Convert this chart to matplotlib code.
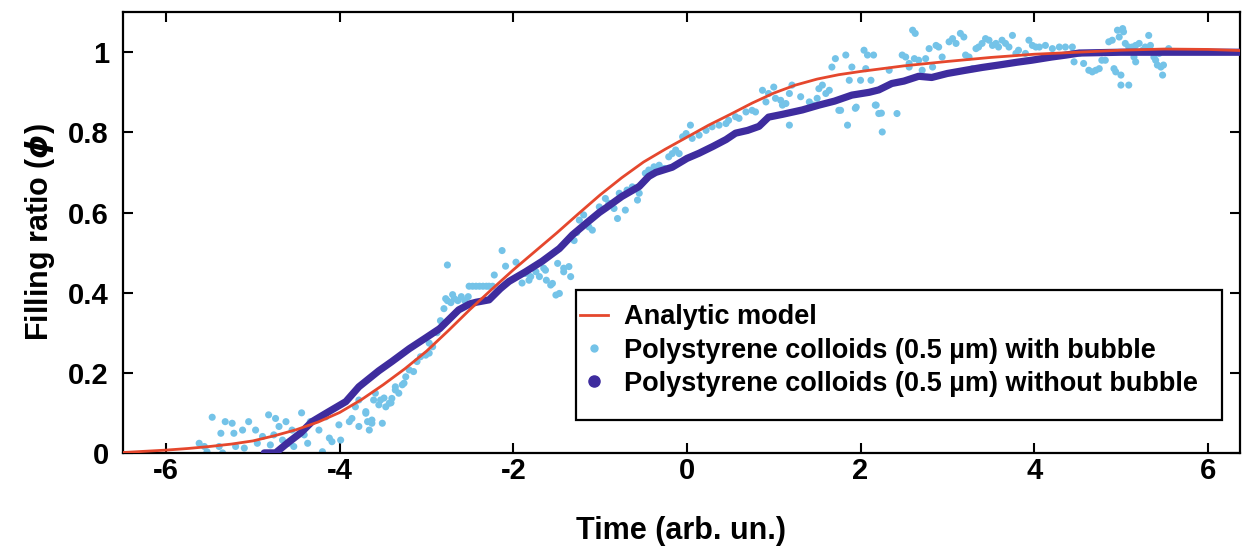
import numpy as np
import matplotlib
matplotlib.use("Agg")
import matplotlib.pyplot as plt
from matplotlib.lines import Line2D
from matplotlib.patches import Rectangle

plt.rcParams['font.family'] = ['Liberation Sans', 'DejaVu Sans']
plt.rcParams['font.weight'] = 'bold'
plt.rcParams['axes.unicode_minus'] = False
plt.rcParams['mathtext.fontset'] = 'custom'
plt.rcParams['mathtext.it'] = 'DejaVu Sans:italic:bold'
plt.rcParams['mathtext.rm'] = 'Liberation Sans:bold'

# analytic model
model_x = [-6.5, -6.25, -6.0, -5.75, -5.5, -5.25, -5.0, -4.75, -4.5, -4.25, -4.0, -3.75,
           -3.5, -3.25, -3.0, -2.75, -2.5, -2.25, -2.0, -1.75, -1.5, -1.25, -1.0, -0.75,
           -0.5, -0.25, 0.0, 0.25, 0.5, 0.75, 1.0, 1.25, 1.5, 1.75, 2.0, 2.5, 3.0, 3.5,
           4.0, 4.5, 5.0, 5.5, 6.0, 6.4]
model_y = [0.001, 0.004, 0.007, 0.011, 0.016, 0.022, 0.03, 0.043, 0.058, 0.077, 0.101, 0.133,
           0.17, 0.21, 0.254, 0.305, 0.358, 0.408, 0.457, 0.503, 0.549, 0.597, 0.644, 0.687,
           0.726, 0.758, 0.788, 0.818, 0.845, 0.873, 0.898, 0.918, 0.933, 0.944, 0.952, 0.966,
           0.977, 0.987, 0.995, 1.0, 1.005, 1.008, 1.007, 1.004]

# colloids without bubble
nobub_x = [-4.87, -4.74, -4.6, -4.45, -4.32, -4.15, -3.93, -3.78, -3.55, -3.40, -3.2, -3.01,
           -2.85, -2.63, -2.50, -2.43, -2.28, -2.15, -2.05, -1.86, -1.67, -1.47, -1.32, -1.15,
           -1.01, -0.93, -0.75, -0.55, -0.44, -0.36, -0.17, 0.0, 0.14, 0.30, 0.45, 0.56, 0.70,
           0.83, 0.94, 1.1, 1.33, 1.52, 1.70, 1.90, 2.1, 2.21, 2.36, 2.50, 2.67, 2.82, 3.0,
           3.21, 3.4, 3.59, 3.8, 3.97, 4.2, 4.37, 4.52, 5.0, 5.5, 6.0, 6.4]
nobub_y = [0.0, 0.0, 0.025, 0.05, 0.078, 0.10, 0.128, 0.165, 0.205, 0.228, 0.26, 0.287,
           0.31, 0.357, 0.372, 0.376, 0.382, 0.41, 0.428, 0.452, 0.478, 0.51, 0.544, 0.575,
           0.60, 0.612, 0.64, 0.665, 0.69, 0.70, 0.713, 0.735, 0.748, 0.765, 0.782, 0.798, 0.805,
           0.815, 0.838, 0.845, 0.856, 0.868, 0.878, 0.893, 0.90, 0.906, 0.922, 0.928, 0.94, 0.937,
           0.947, 0.955, 0.962, 0.968, 0.975, 0.98, 0.988, 0.993, 0.998, 1.0, 1.0, 1.0, 1.0]

# colloids with bubble
bub_x = [-5.62, -5.56, -5.53, -5.47, -5.39, -5.35, -5.32, -5.37, -5.24, -5.22, -5.20, -5.12,
         -5.10, -5.05, -4.97, -4.95, -4.89, -4.82, -4.80, -4.76, -4.74, -4.70, -4.66, -4.62,
         -4.59, -4.55, -4.53, -4.44, -4.41, -4.37, -4.34, -4.24, -4.20, -4.16, -4.12, -4.09,
         -4.01, -3.99, -3.89, -3.86, -3.82, -3.78, -3.70, -3.68, -3.66, -3.63, -3.59, -3.53,
         -3.51, -3.47, -3.43, -3.40, -3.36, -3.32, -3.26,
         -3.78, -3.70, -3.63, -3.55, -3.61, -3.49, -3.41, -3.36, -3.28, -3.24, -3.20, -3.15,
         -3.11, -3.07, -3.01, -2.97, -2.93, -2.97, -2.88, -2.84, -2.80, -2.78,
         -2.76, -2.76, -2.72, -2.68, -2.64, -2.60, -2.56, -2.52, -2.70,
         -2.51, -2.47, -2.43, -2.39, -2.35, -2.31, -2.28, -2.24,
         -2.22, -2.13, -2.09, -1.97, -1.90, -1.86, -1.82, -1.80, -1.74, -1.70, -1.65, -1.63,
         -1.62, -1.57, -1.55, -1.51, -1.49, -1.47, -1.42, -1.36, -1.34, -1.42,
         -1.30, -1.27, -1.24, -1.19, -1.13, -1.09, -1.01, -0.94, -0.90, -0.84, -0.80, -0.71,
         -0.78, -0.69, -0.63, -0.57, -0.55, -0.48, -0.44, -0.38, -0.32, -0.26, -0.21, -0.17,
         -0.13, -0.09, -0.05, -0.01, 0.04, 0.06, 0.14, 0.22, 0.29, 0.37, 0.45,
         0.48, 0.56, 0.60, 0.68, 0.75, 0.79, 0.87, 0.91, 0.94, 1.00, 1.02, 1.08, 1.10, 1.14,
         1.18, 1.18, 1.21, 1.31, 1.41, 1.46, 1.50, 1.52, 1.56, 1.60, 1.64, 1.67, 1.71, 1.75,
         1.83, 1.85, 1.87, 1.90, 1.94, 2.00, 2.04, 2.06, 2.08, 2.12, 2.15, 2.17, 2.21, 2.25,
         2.33, 2.42, 2.48, 2.52, 2.56, 2.62, 1.77, 1.95, 2.18, 2.24,
         2.60, 2.63, 2.56, 2.67, 2.71, 2.75, 2.79, 2.83, 2.87, 2.90, 2.94, 3.02, 3.06, 3.10,
         3.15, 3.19, 3.21, 3.25, 3.29, 3.33, 3.36, 3.40, 3.44, 3.48, 3.52, 3.56, 3.59, 3.63,
         3.67, 3.71, 3.75, 3.79, 3.82, 3.90, 3.94, 3.98, 4.02, 4.06, 4.13, 4.21, 4.29, 4.36,
         4.44, 4.46,
         4.44, 4.52, 4.57, 4.63, 4.67, 4.71, 4.75, 4.78, 4.82, 4.86, 4.90, 4.92, 4.94, 4.96,
         4.98, 5.00, 5.02, 5.03, 5.00, 5.09, 5.05, 5.09, 5.13, 5.17, 5.21, 5.15, 5.17, 5.25,
         5.28, 5.32, 5.34, 5.38, 5.40, 5.42, 5.44, 5.46, 5.48, 5.49, 5.55]
bub_y = [0.024, 0.016, 0.003, 0.089, 0.016, 0.0, 0.078, 0.049, 0.074, 0.049, 0.016, 0.057,
         0.012, 0.078, 0.057, 0.024, 0.041, 0.095, 0.020, 0.045, 0.086, 0.066, 0.032, 0.078,
         0.024, 0.057, 0.016, 0.100, 0.045, 0.024, 0.078, 0.057, 0.003, 0.090, 0.037, 0.028,
         0.070, 0.032, 0.078, 0.086, 0.115, 0.066, 0.099, 0.078, 0.057, 0.074, 0.149, 0.132,
         0.074, 0.115, 0.124, 0.136, 0.157, 0.149, 0.174,
         0.132, 0.103, 0.082, 0.120, 0.132, 0.137, 0.125, 0.165, 0.170, 0.190, 0.207, 0.203,
         0.228, 0.240, 0.244, 0.249, 0.265, 0.274, 0.30, 0.33, 0.36, 0.385,
         0.469, 0.38, 0.375, 0.385, 0.38, 0.39, 0.38, 0.39, 0.395,
         0.416, 0.416, 0.416, 0.416, 0.416, 0.416, 0.416, 0.416,
         0.444, 0.505, 0.466, 0.476, 0.424, 0.448, 0.431, 0.440, 0.452, 0.44, 0.461, 0.456,
         0.431, 0.419, 0.423, 0.394, 0.473, 0.398, 0.461, 0.465, 0.44, 0.452,
         0.53, 0.55, 0.581, 0.594, 0.564, 0.556, 0.614, 0.635, 0.623, 0.610, 0.585, 0.606,
         0.648, 0.656, 0.664, 0.631, 0.648, 0.698, 0.706, 0.714, 0.718, 0.710, 0.739, 0.747,
         0.756, 0.747, 0.789, 0.797, 0.818, 0.785, 0.793, 0.805, 0.814, 0.818, 0.822,
         0.830, 0.839, 0.835, 0.851, 0.855, 0.851, 0.905, 0.876, 0.897, 0.913, 0.885, 0.880,
         0.868, 0.872, 0.818, 0.897, 0.918, 0.889, 0.876, 0.868, 0.885, 0.909, 0.918, 0.897,
         0.905, 0.963, 0.984, 0.855, 0.993, 0.818, 0.930, 0.963, 0.860, 0.930, 1.005, 0.959,
         0.993, 0.930, 0.993, 0.868, 0.847, 0.801, 0.955, 0.847, 0.993, 0.988, 0.963, 0.984,
         0.855, 0.863, 0.868, 0.848,
         1.055, 1.047, 0.972, 0.980, 0.955, 0.984, 1.009, 0.963, 1.017, 1.013, 0.988, 1.026,
         1.034, 1.022, 1.047, 1.038, 0.993, 0.988, 0.959, 1.009, 1.013, 1.022, 1.034, 1.030,
         1.017, 1.022, 1.013, 1.030, 1.022, 1.013, 1.042, 0.997, 1.005, 0.997, 1.030, 1.017,
         1.013, 1.013, 1.017, 1.009, 1.013, 1.013, 0.997, 0.976,
         1.013, 0.997, 0.972, 0.955, 0.951, 0.955, 0.959, 0.980, 0.980, 1.026, 1.030, 0.959,
         0.951, 1.055, 1.038, 0.943, 1.059, 1.051, 0.918, 0.918, 1.022, 1.013, 1.013, 1.017,
         1.022, 0.988, 0.976, 1.005, 1.013, 1.042, 1.017, 0.988, 0.980, 0.968, 0.997, 0.963,
         0.943, 0.968, 1.009]

x_ticks = [-6, -4, -2, 0, 2, 4, 6]
y_ticks = [0, 0.2, 0.4, 0.6, 0.8, 1]
y_ticklabels = ['0', '0.2', '0.4', '0.6', '0.8', '1']

red = '#e5472d'
light = '#74c3e8'
dark = '#3e2c9e'

fig = plt.figure(figsize=(12.53, 5.53), dpi=100)
ax = fig.add_axes([0.098, 0.181, 0.8915, 0.797])

ax.scatter(bub_x, bub_y, s=26, color=light, edgecolors='none', zorder=2)
ax.plot(nobub_x, nobub_y, color=dark, lw=5.2, solid_capstyle='round',
        solid_joinstyle='round', zorder=3)
ax.plot(model_x, model_y, color=red, lw=2, zorder=4)

ax.set_xlim(-6.5, 6.37)
ax.set_ylim(0, 1.1)
ax.set_xticks(x_ticks)
ax.set_xticklabels([str(t) for t in x_ticks])
ax.set_yticks(y_ticks)
ax.set_yticklabels(y_ticklabels)
ax.tick_params(direction='in', length=7, width=1.5, top=True, right=True, labelsize=21)
ax.tick_params(axis='x', pad=3)
ax.tick_params(axis='y', pad=10)
for sp in ax.spines.values():
    sp.set_linewidth(1.6)

ax.set_xlabel('Time (arb. un.)', fontsize=22, fontweight='bold', labelpad=22)
ax.set_ylabel(r'Filling ratio ($\phi$)', fontsize=22, fontweight='bold', labelpad=8)

# legend box
ax.add_patch(Rectangle((0.406, 0.075), 0.578, 0.295, transform=ax.transAxes,
                       fill=True, facecolor='white', edgecolor='black', lw=1.6, zorder=5))
handles = [Line2D([], [], color=red, lw=2),
           Line2D([], [], ls='', marker='o', ms=5, color=light),
           Line2D([], [], ls='', marker='o', ms=8, color=dark)]
labels = ['Analytic model',
          'Polystyrene colloids (0.5 µm) with bubble',
          'Polystyrene colloids (0.5 µm) without bubble']
leg = ax.legend(handles, labels, loc='upper left', bbox_to_anchor=(0.4, 0.362),
                frameon=False, fontsize=19.5, handlelength=1.0, handletextpad=0.6,
                labelspacing=0.27, borderaxespad=0)
leg.set_zorder(6)

fig.savefig('out.png', dpi=100)
